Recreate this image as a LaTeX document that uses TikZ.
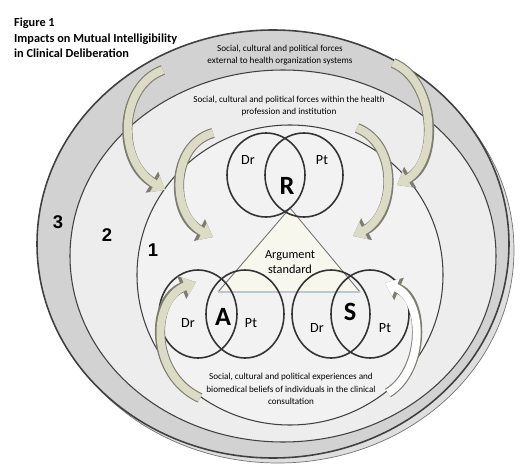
\documentclass[tikz,border=0pt]{standalone}
\usepackage{fontspec}
\setmainfont{Carlito}
\newfontfamily\numfont{Liberation Sans}
\usetikzlibrary{arrows.meta}

\definecolor{ringgray}{RGB}{210,210,210}
\definecolor{shadowgray}{RGB}{222,222,222}
\definecolor{zonegray}{RGB}{237,237,237}
\definecolor{coregray}{RGB}{242,242,242}
\definecolor{khaki}{RGB}{220,220,198}
\definecolor{edgegray}{RGB}{125,125,112}
\definecolor{trifill}{RGB}{247,247,238}
\definecolor{baseblue}{RGB}{188,198,206}

\tikzset{
  venn/.style={draw=black!80, line width=0.9pt},
  zone/.style={draw=black!75, line width=0.6pt},
  flow/.style={line width=4.5pt, draw=#1, -{Triangle[length=0pt 1.5, width=0pt 2.3]},
    preaction={draw=edgegray, line width=5.8pt, -{Triangle[length=0pt 1.5, width=0pt 2.3]}}},
  flow/.default=khaki,
  tag/.style={font=\fontsize{8}{9}\selectfont},
  letter/.style={font=\fontsize{15}{16}\selectfont\bfseries},
  zonenum/.style={font=\numfont\fontsize{10.5}{12}\selectfont\bfseries},
  zonetext/.style={align=center, font=\fontsize{5.2}{7.2}\selectfont},
}

\begin{document}
\begin{tikzpicture}[x=0.02cm, y=0.02cm]
  \useasboundingbox (0,0) rectangle (525,-470);

  % the three zones
  \draw[draw=black!55, fill=shadowgray] (278,-250) ellipse [x radius=236, y radius=213];
  \draw[zone, line width=0.9pt, fill=ringgray] (273,-244) ellipse [x radius=236, y radius=214];
  \draw[zone, fill=zonegray] (283,-256) ellipse [x radius=213, y radius=186];
  \draw[zone, fill=coregray] (290,-275) ellipse [x radius=153, y radius=150];

  % argument standard
  \coordinate (apex) at (290,-208);
  \coordinate (baseL) at (218,-292);
  \coordinate (baseR) at (360,-292);
  \fill[trifill] (apex) -- (baseL) -- (baseR) -- cycle;
  \draw[black!55, line width=0.5pt] (baseL) -- (apex) -- (baseR);
  \draw[baseblue, line width=1.5pt] (baseL) -- (baseR);
  \node[align=center, font=\fontsize{7}{8.5}\selectfont] (arg) at (290,-262) {Argument\\standard};

  % titles and zone labels
  \node[anchor=west, align=left, font=\fontsize{7}{8.8}\selectfont\bfseries] (title) at (8,-38)
    {Figure 1\\Impacts on Mutual Intelligibility\\in Clinical Deliberation};
  \node[zonetext] (ext) at (280,-55) {Social, cultural and political forces\\external to health organization systems};
  \node[zonetext] (inst) at (289,-106) {Social, cultural and political forces within the health\\profession and institution};
  \node[zonetext] (indiv) at (291,-389) {Social, cultural and political experiences and\\biomedical beliefs of individuals in the clinical\\consultation};
  \node[zonenum] (n3) at (58,-222) {3};
  \node[zonenum] (n2) at (107,-235) {2};
  \node[zonenum] (n1) at (153,-250) {1};

  % venn pairs
  \draw[venn] (266,-175) ellipse [x radius=39, y radius=42];
  \draw[venn] (304,-175) ellipse [x radius=39, y radius=42];
  \draw[venn] (198,-314) ellipse [x radius=39, y radius=44];
  \draw[venn] (245,-314) ellipse [x radius=39, y radius=44];
  \draw[venn] (331,-314) ellipse [x radius=39, y radius=44];
  \draw[venn] (370,-314) ellipse [x radius=39, y radius=44];
  \node[tag] (rdr) at (248,-160) {Dr};
  \node[tag] (rpt) at (322,-160) {Pt};
  \node[letter] (R) at (287,-186) {R};
  \node[tag] (adr) at (188,-323) {Dr};
  \node[tag] (apt) at (251,-323) {Pt};
  \node[letter] (A) at (223,-317) {A};
  \node[tag] (sdr) at (317,-328) {Dr};
  \node[tag] (spt) at (385,-328) {Pt};
  \node[letter] (S) at (350,-312) {S};

  % influence arrows
  \coordinate (a1) at (163,-70);   \coordinate (b1) at (165,-190);
  \coordinate (a2) at (213,-133);  \coordinate (b2) at (213,-237);
  \coordinate (a3) at (393,-63);   \coordinate (b3) at (397,-185);
  \coordinate (a4) at (357,-128);  \coordinate (b4) at (353,-236);
  \coordinate (a5) at (200,-398);  \coordinate (b5) at (196,-282);
  \coordinate (a6) at (388,-393);  \coordinate (b6) at (385,-283);
  \draw[flow] (a1) .. controls (120,-85) and (115,-160) .. (b1);
  \draw[flow] (a2) .. controls (170,-145) and (170,-215) .. (b2);
  \draw[flow] (a3) .. controls (435,-80) and (440,-160) .. (b3);
  \draw[flow] (a4) .. controls (400,-145) and (395,-215) .. (b4);
  \draw[flow] (a5) .. controls (150,-375) and (150,-300) .. (b5);
  \draw[flow=white] (a6) .. controls (425,-370) and (425,-300) .. (b6);
\end{tikzpicture}
\end{document}
